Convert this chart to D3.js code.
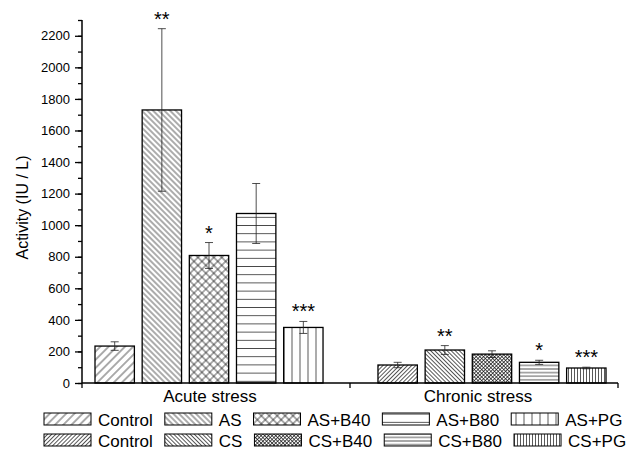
<!DOCTYPE html>
<html>
<head>
<meta charset="utf-8">
<script src="https://cdn.jsdelivr.net/npm/d3@7"></script>
<style>
  body { margin: 0; background: #fff; }
  svg text { font-family: Arial, "Liberation Sans", sans-serif; fill: #000; }
</style>
</head>
<body>
<svg id="chart" width="628" height="450"></svg>
<script>
// data
const groups = ["Acute stress", "Chronic stress"];
const acuteNames = ["Control", "AS", "AS+B40", "AS+B80", "AS+PG"];
const chronicNames = ["Control", "CS", "CS+B40", "CS+B80", "CS+PG"];
const acuteMeans = [234, 1730, 808, 1074, 352];
const acuteErrors = [27, 515, 82, 190, 38];
const acuteStars = ["", "**", "*", "", "***"];
const chronicMeans = [114, 209, 183, 131, 95];
const chronicErrors = [17, 28, 21, 13, 5];
const chronicStars = ["", "**", "", "*", "***"];
const yMajorTicks = d3.range(0, 2201, 200);
const yMinorTicks = d3.range(0, 2301, 100);

const svg = d3.select("#chart");
const defs = svg.append("defs");

// hatch patterns: [id, spacing, angles]
const patterns = [
  ["as0", 5.8, [45]],
  ["as1", 4.0, [-45]],
  ["as2", 5.6, [45, -45]],
  ["as3", 8.2, [90]],
  ["as4", 8.0, [0]],
  ["cs0", 2.9, [45]],
  ["cs1", 2.9, [-45]],
  ["cs2", 2.6, [45, -45]],
  ["cs3", 3.6, [90]],
  ["cs4", 3.0, [0]]
];
patterns.forEach(([id, s, angles]) => {
  angles.forEach((a, k) => {
    const p = defs.append("pattern")
      .attr("id", id + "_" + k)
      .attr("patternUnits", "userSpaceOnUse")
      .attr("width", s)
      .attr("height", s)
      .attr("patternTransform", `rotate(${a})`);
    p.append("line")
      .attr("x1", s / 2).attr("y1", 0)
      .attr("x2", s / 2).attr("y2", s)
      .attr("stroke", "#111")
      .attr("stroke-width", 0.7);
  });
});

const margin = { left: 82, right: 618, top: 20, bottom: 383 };

const y = d3.scaleLinear().domain([0, 2300]).range([margin.bottom, margin.top]);
const xGroup = d3.scaleBand().domain(groups).range([margin.left, margin.right]);
const xSlot = d3.scaleBand().domain(d3.range(11)).range([95, 606]).paddingInner(0.165);

const bars = [];
acuteNames.forEach((n, i) => bars.push({ slot: i, pat: "as" + i, v: acuteMeans[i], e: acuteErrors[i], star: acuteStars[i] }));
chronicNames.forEach((n, i) => bars.push({ slot: i + 6, pat: "cs" + i, v: chronicMeans[i], e: chronicErrors[i], star: chronicStars[i] }));

// hatched box: one rect per hatch direction, then the outline
function hatchBox(parent, x, yTop, w, h, pat, sw) {
  const angles = patterns.find(p => p[0] === pat)[2];
  angles.forEach((a, k) => {
    parent.append("rect")
      .attr("x", x).attr("y", yTop).attr("width", w).attr("height", h)
      .attr("fill", `url(#${pat}_${k})`);
  });
  parent.append("rect")
    .attr("x", x).attr("y", yTop).attr("width", w).attr("height", h)
    .attr("fill", "none")
    .attr("stroke", "#000")
    .attr("stroke-width", sw);
}

const barG = svg.append("g");
bars.forEach(d => {
  hatchBox(barG, xSlot(d.slot), y(d.v), xSlot.bandwidth(), y(0) - y(d.v), d.pat, 1.3);
});

// error bars
const errG = svg.append("g").attr("stroke", "#222").attr("stroke-width", 0.8);
bars.forEach(d => {
  const cx = xSlot(d.slot) + xSlot.bandwidth() / 2;
  errG.append("line").attr("x1", cx).attr("x2", cx).attr("y1", y(d.v + d.e)).attr("y2", y(d.v - d.e));
  [d.v + d.e, d.v - d.e].forEach(v => {
    errG.append("line").attr("x1", cx - 4).attr("x2", cx + 4).attr("y1", y(v)).attr("y2", y(v));
  });
  if (d.star) {
    svg.append("text")
      .attr("x", cx)
      .attr("y", y(d.v + d.e) - 3)
      .attr("text-anchor", "middle")
      .attr("font-size", 20)
      .text(d.star);
  }
});

// y axis
const yAxis = svg.append("g").attr("transform", `translate(${margin.left},0)`);
yAxis.call(d3.axisLeft(y).tickValues(yMinorTicks).tickSize(4).tickFormat(""));
yAxis.selectAll(".tick line").attr("stroke-width", 1.3);
yAxis.select(".domain").attr("d", `M0,${y(2300)}V${y(0)}`).attr("stroke-width", 1.5);
const yMaj = svg.append("g").attr("transform", `translate(${margin.left},0)`);
yMaj.call(d3.axisLeft(y).tickValues(yMajorTicks).tickSize(7).tickPadding(5).tickFormat(d3.format("d")));
yMaj.select(".domain").remove();
yMaj.selectAll(".tick line").attr("stroke-width", 1.3);
yMaj.selectAll(".tick text").attr("font-size", 13).style("font-family", "Arial, 'Liberation Sans', sans-serif");

// x axis
const xAxis = svg.append("g").attr("transform", `translate(0,${margin.bottom})`);
xAxis.append("line")
  .attr("x1", margin.left).attr("x2", margin.right)
  .attr("stroke", "#000").attr("stroke-width", 1.5);
const bounds = groups.map(g => xGroup(g)).concat([xGroup(groups[1]) + xGroup.bandwidth()]);
xAxis.selectAll(".bt").data(bounds).join("line")
  .attr("x1", d => d).attr("x2", d => d)
  .attr("y1", 0).attr("y2", 5)
  .attr("stroke", "#000").attr("stroke-width", 1.3);
xAxis.selectAll(".gl").data(groups).join("text")
  .attr("x", d => xGroup(d) + xGroup.bandwidth() / 2 - 6)
  .attr("y", 19)
  .attr("text-anchor", "middle")
  .attr("font-size", 17)
  .text(d => d);

// axis title
svg.append("text")
  .attr("transform", `translate(28,${(y(0) + y(2300)) / 2 + 6}) rotate(-90)`)
  .attr("text-anchor", "middle")
  .attr("font-size", 16)
  .text("Activity (IU / L)");

// legend
const legendRows = [
  { names: acuteNames, pre: "as", y: 413 },
  { names: chronicNames, pre: "cs", y: 434 }
];
legendRows.forEach(row => {
  let cx = 44;
  row.names.forEach((n, i) => {
    const g = svg.append("g");
    hatchBox(g, cx, row.y, 47, 12, row.pre + i, 1);
    const t = svg.append("text")
      .attr("x", cx + 54)
      .attr("y", row.y + 13)
      .attr("font-size", 17)
      .text(n);
    cx += 54 + t.node().getComputedTextLength() + 12;
  });
});
</script>
</body>
</html>
